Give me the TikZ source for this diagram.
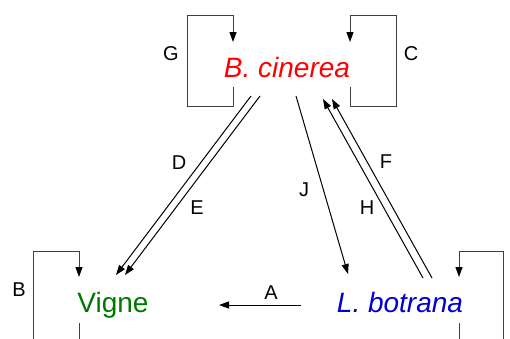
\documentclass[tikz,border=0pt]{standalone}
\usepackage{fontspec}
\setmainfont{Liberation Sans}
\usetikzlibrary{arrows.meta}
\definecolor{bcred}{RGB}{255,0,0}
\definecolor{vgreen}{RGB}{0,120,0}
\definecolor{lbblue}{RGB}{0,0,210}
\definecolor{loopgray}{RGB}{64,64,64}
\tikzset{
  species/.style = {anchor=base, inner sep=0pt, font=\fontsize{28}{30}\selectfont},
  % italic names for the two organisms
  organism/.style = {species, font=\fontsize{28}{30}\selectfont\itshape},
  lbl/.style     = {inner sep=0pt, font=\fontsize{20}{22}\selectfont},
  flow/.style    = {draw=black, line width=1pt, -{Triangle[length=10pt,width=7pt]}},
  selfloop/.style = {draw=loopgray, line width=1pt, -{Triangle[length=10pt,width=7pt,color=black]}},
}

\begin{document}
\begin{tikzpicture}[x=1pt, y=-1pt]

    \clip (0,0) rectangle (510,338);

    \node[organism, text=bcred]  (bc) at (287,77)  {B. cinerea};
    \node[species,  text=vgreen] (vg) at (113,312) {Vigne};
    \node[organism, text=lbblue] (lb) at (400,312) {L. botrana};

    % self loops
    \draw[selfloop] ([shift={(-54,10)}]bc.base) -- ++(0,19) -| ++(-46,-91) -| ([shift={(-54,-35)}]bc.base);
    \draw[selfloop] ([shift={(63,10)}]bc.base) -- ++(0,19) -| ++(46,-91) -| ([shift={(63,-35)}]bc.base);
    \draw[selfloop] ([shift={(-34,11)}]vg.base) -- ++(0,19) -| ++(-46,-91) -| ([shift={(-34,-35)}]vg.base);
    \draw[selfloop] ([shift={(59,11)}]lb.base) -- ++(0,19) -| ++(44,-91) -| ([shift={(59,-35)}]lb.base);

    % links between the three
    \draw[flow] ([shift={(-36,19)}]bc.base) -- ([shift={(3,-37)}]vg.base);
    \draw[flow] ([shift={(-27,19)}]bc.base) -- ([shift={(12,-37)}]vg.base);
    \draw[flow] ([shift={(9,19)}]bc.base)   -- ([shift={(-52,-38)}]lb.base);
    \draw[flow] ([shift={(23,-34)}]lb.base) -- ([shift={(36,22)}]bc.base);
    \draw[flow] ([shift={(32,-34)}]lb.base) -- ([shift={(45,22)}]bc.base);
    \draw[flow] ([shift={(-99,-7)}]lb.base) -- ([shift={(106,-7)}]vg.base);

    \node[lbl] (lG) at (171,54)  {G};
    \node[lbl] (lC) at (411,54)  {C};
    \node[lbl] (lB) at (19,290)  {B};
    \node[lbl] (lD) at (179,163) {D};
    \node[lbl] (lE) at (197,208) {E};
    \node[lbl] (lJ) at (304,190) {J};
    \node[lbl] (lF) at (386,162) {F};
    \node[lbl] (lH) at (367,208) {H};
    \node[lbl] (lA) at (271,293) {A};
  \end{tikzpicture}
\end{document}
